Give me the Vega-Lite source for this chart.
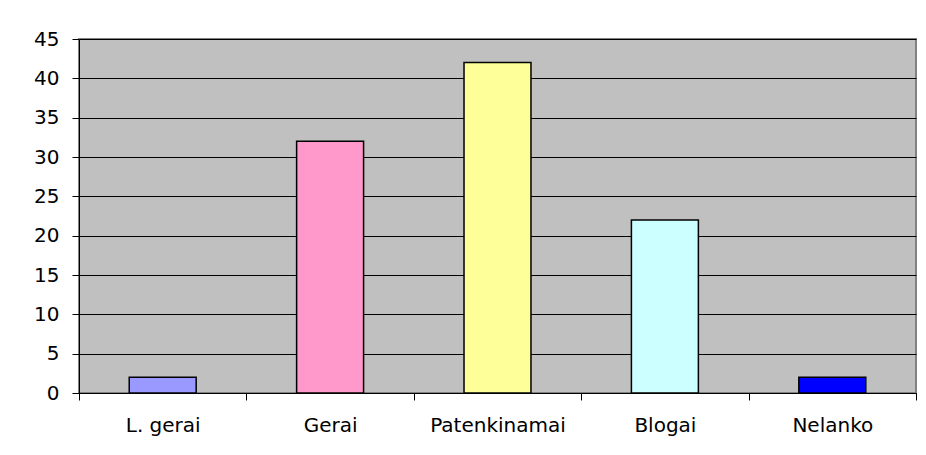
{
  "$schema": "https://vega.github.io/schema/vega-lite/v6.json",
  "width": 837,
  "height": 354,
  "autosize": {"type": "none"},
  "padding": {"left": 79, "top": 39, "right": 10, "bottom": 62},
  "background": "white",
  "data": {"values": [
    {"category": "L. gerai", "value": 2},
    {"category": "Gerai", "value": 32},
    {"category": "Patenkinamai", "value": 42},
    {"category": "Blogai", "value": 22},
    {"category": "Nelanko", "value": 2}
  ]},
  "mark": {"type": "bar", "stroke": "black", "strokeWidth": 1.5, "width": {"band": 0.4}},
  "encoding": {
    "x": {
      "field": "category", "type": "nominal", "sort": null,
      "scale": {"paddingInner": 0, "paddingOuter": 0},
      "axis": {"title": null, "labelAngle": 0, "labelFont": "DejaVu Sans", "labelFontSize": 20, "labelColor": "black",
               "tickBand": "extent", "tickSize": 7, "tickColor": "black", "domainColor": "black", "labelPadding": 15, "grid": false}
    },
    "y": {
      "field": "value", "type": "quantitative",
      "scale": {"domain": [0, 45], "nice": false},
      "axis": {"title": null, "values": [0,5,10,15,20,25,30,35,40,45], "labelFont": "DejaVu Sans", "labelFontSize": 20, "labelColor": "black",
               "tickSize": 7, "tickColor": "black", "domainColor": "black", "labelPadding": 13,
               "grid": true, "gridColor": "black", "gridWidth": 1, "gridOpacity": 1}
    },
    "color": {
      "field": "category", "type": "nominal", "sort": null,
      "scale": {"domain": ["L. gerai", "Gerai", "Patenkinamai", "Blogai", "Nelanko"],
                "range": ["#9999FF", "#FF99CC", "#FFFF99", "#CCFFFF", "#0000FF"]},
      "legend": null
    }
  },
  "config": {
    "view": {"fill": "#C0C0C0", "stroke": "#808080", "strokeWidth": 2}
  }
}
